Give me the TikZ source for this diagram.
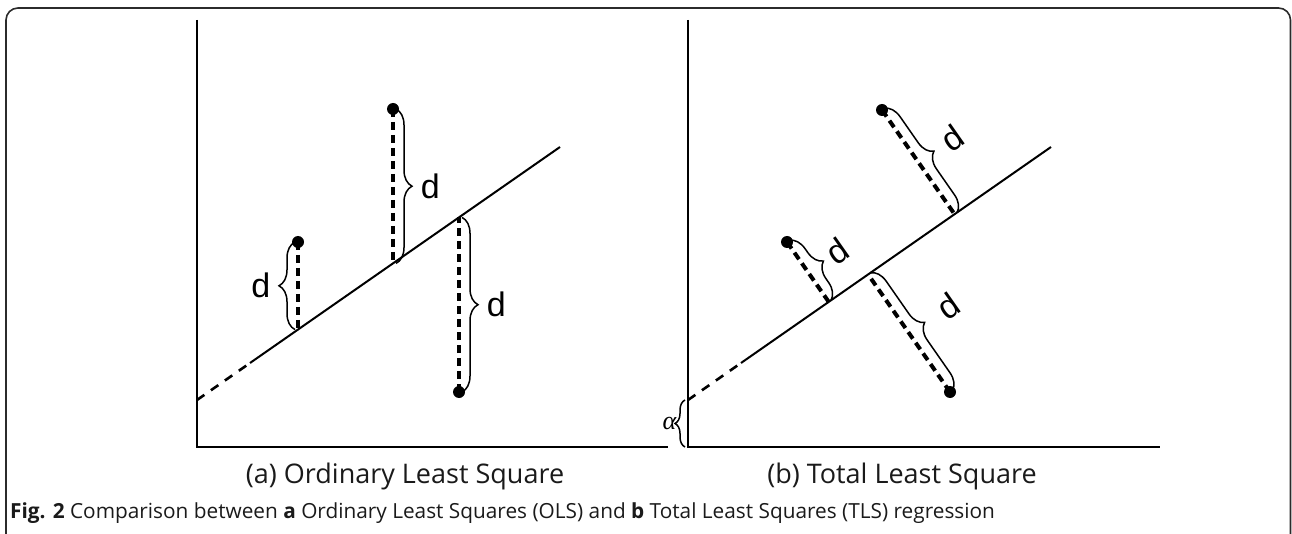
\documentclass[tikz,border=0pt]{standalone}
\usepackage{fontspec}
\setmainfont{Liberation Sans}
\newfontfamily\titlefont{Open Sans}
\newfontfamily\greekfont{Liberation Serif}
\definecolor{FigInk}{HTML}{000000}
\definecolor{FigFrame}{HTML}{2B2B2B}
\definecolor{FigText}{HTML}{1A1A1A}
\usetikzlibrary{decorations.pathreplacing,calc}
\tikzset{
  every node/.style={text=FigInk},
  axisline/.style={draw=FigInk, line width=2.6pt},
  fitline/.style={draw=FigInk, line width=2pt},
  extension/.style={draw=FigInk, line width=2.6pt, dash pattern=on 9pt off 8pt},
  residual/.style={draw=FigInk, line width=4pt, dash pattern=on 8pt off 5pt},
  datum/.style={circle, fill=FigInk, inner sep=0pt, minimum size=12pt},
  gap/.style={draw=FigInk, line width=1.5pt, decorate,
    decoration={brace, amplitude=#1, raise=3pt}},
  gap/.default=16pt,
  dlabel/.style={font=\fontsize{34}{34}\selectfont, inner sep=0pt},
  paneltitle/.style={font=\titlefont\fontsize{27}{30}\selectfont, text=FigText, anchor=base},
}

\begin{document}
\begin{tikzpicture}[x=1pt,y=-1pt]
  \useasboundingbox (0,0) rectangle (1292,534);
  \draw[FigFrame, line width=1.6pt, rounded corners=12pt] (6,8) rectangle (1290.5,546);
  % Panel a: vertical offsets (OLS)
  \coordinate (a-o) at (197,447);
  \draw[axisline] (197,20) -- (a-o) -- (668,447);
  \coordinate (a-s) at (197,400);
  \coordinate (a-k) at (250,363);
  \coordinate (a-e) at (560,147);
  \draw[extension] (a-s) -- (a-k);
  \draw[fitline] (a-k) -- (a-e);
  \node[datum] (a-p1) at (298,242) {};
  \node[datum] (a-p2) at (393,109) {};
  \node[datum] (a-p3) at (459,392) {};
  \coordinate (a-f1) at (298,329.6);
  \coordinate (a-f2) at (393,263.4);
  \coordinate (a-f3) at (459,217.4);
  \draw[residual] (a-p1.center) -- (a-f1);
  \draw[residual] (a-p2.center) -- (a-f2);
  \draw[residual] (a-p3.center) -- (a-f3);
  \draw[gap] (a-f1) -- node[dlabel, left=27pt] {d} (a-p1.center);
  \draw[gap] (a-p2.center) -- node[dlabel, right=27pt] {d} (a-f2);
  \draw[gap] (a-f3) -- node[dlabel, right=27pt] {d} (a-p3.center);
  \node[paneltitle] (a-title) at (405,483) {(a) Ordinary Least Square};
  % Panel b: perpendicular offsets (TLS)
  \coordinate (b-o) at (688,447);
  \draw[axisline] (688,20) -- (b-o) -- (1160,447);
  \coordinate (b-s) at (688,400);
  \coordinate (b-k) at (741,363);
  \coordinate (b-e) at (1051,147);
  \draw[extension] (b-s) -- (b-k);
  \draw[fitline] (b-k) -- (b-e);
  \node[datum] (b-p1) at (787,242) {};
  \node[datum] (b-p2) at (882,110) {};
  \node[datum] (b-p3) at (950,392) {};
  \coordinate (b-f1) at ($(b-k)!(b-p1)!(b-e)$);
  \coordinate (b-f2) at ($(b-k)!(b-p2)!(b-e)$);
  \coordinate (b-f3) at ($(b-k)!(b-p3)!(b-e)$);
  \draw[residual] (b-p1.center) -- (b-f1);
  \draw[residual] (b-p2.center) -- (b-f2);
  \draw[residual] (b-p3.center) -- (b-f3);
  \draw[gap] (b-p1.center) -- (b-f1);
  \draw[gap] (b-p2.center) -- (b-f2);
  \draw[gap] (b-f3) -- (b-p3.center);
  \node[dlabel, rotate=35] (b-d1) at ($($(b-p1)!0.5!(b-f1)$)+(35:36pt)$) {d};
  \node[dlabel, rotate=35] (b-d2) at ($($(b-p2)!0.5!(b-f2)$)+(35:42pt)$) {d};
  \node[dlabel, rotate=35] (b-d3) at ($($(b-p3)!0.5!(b-f3)$)+(35:48pt)$) {d};
  \draw[gap=10pt] (b-o) -- node[left=11pt, inner sep=0pt, font=\greekfont\itshape\fontsize{26}{26}\selectfont] {α} (b-s);
  \node[paneltitle] (b-title) at (902,483) {(b) Total Least Square};
  % caption
  \node[anchor=base west, inner sep=0pt, text=FigText, font=\titlefont\fontsize{20.8}{24}\selectfont] (cap) at (10,518)
    {\textbf{Fig. 2} Comparison between \textbf{a} Ordinary Least Squares (OLS) and \textbf{b} Total Least Squares (TLS) regression};
\end{tikzpicture}
\end{document}
